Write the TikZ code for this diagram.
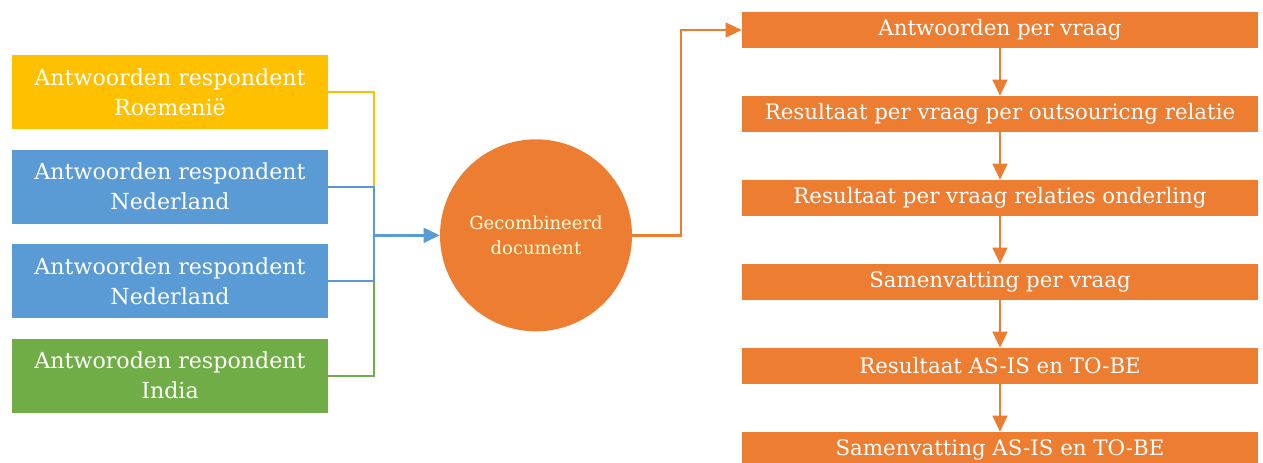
\documentclass[tikz,border=0pt]{standalone}
\usepackage{fontspec}
\setmainfont{DejaVu Serif}
\usepackage{tikz}
\usetikzlibrary{arrows.meta, positioning}
\definecolor{oranje}{HTML}{ED7D31}
\definecolor{geel}{HTML}{FFC000}
\definecolor{blauw}{HTML}{5B9BD5}
\definecolor{groen}{HTML}{70AD47}
\tikzstyle{input} = [rectangle, minimum width=237pt, minimum height=55.5pt,
text centered, text=white, align=center, font=\fontsize{16.6}{22.5}\selectfont]
\tikzstyle{result} = [rectangle, minimum width=387pt, minimum height=27pt,
text centered, text=white, fill=oranje, font=\fontsize{16}{18}\selectfont]
\tikzstyle{combine} = [circle, minimum size=144pt, fill=oranje,
text=white!85!yellow, align=center, font=\fontsize{13.5}{18.75}\selectfont]
\tikzstyle{link} = [line width=1.5pt]
\tikzstyle{arrow} = [line width=1.8pt,-{Triangle[length=12pt,width=11pt]}]

\begin{document}
\begin{tikzpicture}[node distance=70.9pt]
\useasboundingbox (0,0) rectangle (947.25pt,-347.25pt);

\node(roe)[input, fill=geel] at (127.5pt,-69pt){Antwoorden respondent\\Roemenië};
\node(ned)[input, fill=blauw, below of=roe]{Antwoorden respondent\\Nederland};
\node(ned2)[input, fill=blauw, below of=ned]{Antwoorden respondent\\Nederland};
\node(ind)[input, fill=groen, below of=ned2]{Antworoden respondent\\India};

\node(doc)[combine] at (402pt,-176.5pt){Gecombineerd\\document};

\node(per)[result] at (750pt,-22.5pt){Antwoorden per vraag};
\node(rel)[result, below of=per, yshift=7.9pt]{Resultaat per vraag per outsouricng relatie};
\node(ond)[result, below of=rel, yshift=7.9pt]{Resultaat per vraag relaties onderling};
\node(sam)[result, below of=ond, yshift=7.9pt]{Samenvatting per vraag};
\node(asis)[result, below of=sam, yshift=7.9pt]{Resultaat AS-IS en TO-BE};
\node(tobe)[result, below of=asis, yshift=7.9pt]{Samenvatting AS-IS en TO-BE};

\coordinate(join) at (280.5pt,-176.5pt);
\coordinate(bend) at (510.75pt,-22.5pt);

\draw[link, geel](roe.east) -| (join);
\draw[link, groen](ind.east) -| (join);
\draw[link, blauw](ned.east) -| (join);
\draw[link, blauw](ned2.east) -| (join);
\draw[arrow, blauw](join) -- (doc);

\draw[arrow, oranje](doc.east) -| (bend) -- (per.west);
\draw[arrow, oranje](per) -- (rel);
\draw[arrow, oranje](rel) -- (ond);
\draw[arrow, oranje](ond) -- (sam);
\draw[arrow, oranje](sam) -- (asis);
\draw[arrow, oranje](asis) -- (tobe);

\end{tikzpicture}
\end{document}
